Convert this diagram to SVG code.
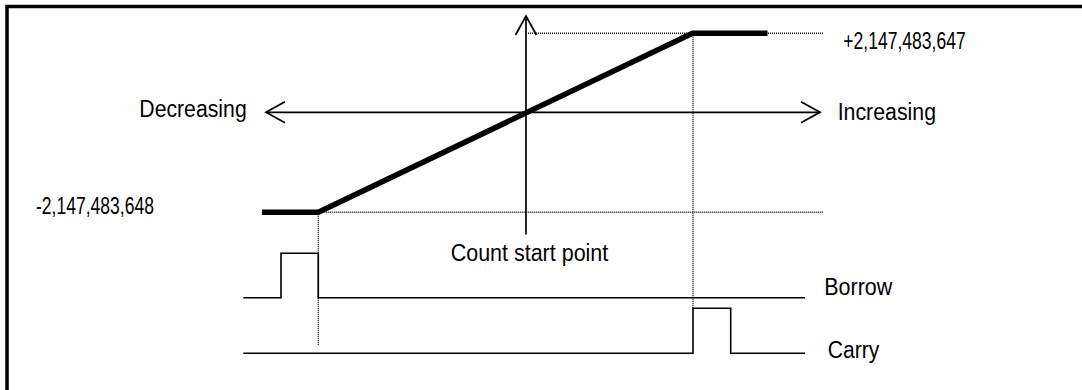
<svg xmlns="http://www.w3.org/2000/svg" width="1082" height="390" viewBox="0 0 1082 390">
  <style>
    .frame { fill: none; stroke: #000; stroke-width: 3.5; }
    .axis { fill: none; stroke: #000; stroke-width: 1.7; }
    .count { fill: none; stroke: #000; stroke-width: 5.5; stroke-linejoin: round; }
    .dot { fill: none; stroke: #111; stroke-width: 1.4; stroke-dasharray: 1 1; }
    .sig { fill: none; stroke: #000; stroke-width: 1.6; }
    .lbl { font-family: "Liberation Sans", Arial, sans-serif; font-size: 23px; fill: #000; }
    .num { font-family: "Liberation Sans Narrow", "Liberation Sans", Arial, sans-serif; font-size: 24px; fill: #000; }
  </style>
  <defs>
    <marker id="open" viewBox="-22 -13 26 26" markerWidth="26" markerHeight="26" refX="0" refY="0" orient="auto-start-reverse" markerUnits="userSpaceOnUse">
      <path d="M-19,-10.5 L0,0 L-19,10.5" fill="none" stroke="#000" stroke-width="1.8"/>
    </marker>
  </defs>
  <rect width="1082" height="390" fill="#fff"/>
  <rect id="frame" class="frame" x="7" y="6.5" width="1100" height="400"/>

  <g id="connectors">
    <line id="h-axis" class="axis" x1="266" y1="112.3" x2="820" y2="112.3" marker-start="url(#open)" marker-end="url(#open)"/>
    <line id="v-axis" class="axis" x1="526" y1="234.5" x2="526" y2="16" marker-end="url(#open)"/>
    <line class="dot" x1="526" y1="33.3" x2="823" y2="33.3"/>
    <line class="dot" x1="318.3" y1="212.3" x2="823" y2="212.3"/>
    <line class="dot" x1="318.3" y1="212.3" x2="318.3" y2="345"/>
    <line class="dot" x1="693" y1="33.3" x2="693" y2="308"/>
  </g>

  <g id="count-line">
    <polyline class="count" points="262,212.3 318.3,212.3 692.5,33.3 767.5,33.3"/>
  </g>

  <g id="borrow">
    <polyline class="sig" points="243.3,297.8 281,297.8 281,253.3 318.3,253.3 318.3,297.8 805,297.8"/>
    <text class="lbl" x="824.3" y="295" textLength="68" lengthAdjust="spacingAndGlyphs">Borrow</text>
  </g>

  <g id="carry">
    <polyline class="sig" points="243.3,353.3 693,353.3 693,308.3 730.7,308.3 730.7,353.3 805,353.3"/>
    <text class="lbl" x="827.7" y="358.3" textLength="51.6" lengthAdjust="spacingAndGlyphs">Carry</text>
  </g>

  <g id="decreasing">
    <text class="lbl" x="139.3" y="116.7" textLength="107.4" lengthAdjust="spacingAndGlyphs">Decreasing</text>
  </g>
  <g id="increasing">
    <text class="lbl" x="837.7" y="120" textLength="98.3" lengthAdjust="spacingAndGlyphs">Increasing</text>
  </g>
  <g id="max-value">
    <text class="num" x="843.3" y="49.3" textLength="122.4" lengthAdjust="spacingAndGlyphs">+2,147,483,647</text>
  </g>
  <g id="min-value">
    <text class="num" x="36" y="214" textLength="118" lengthAdjust="spacingAndGlyphs">-2,147,483,648</text>
  </g>
  <g id="count-start">
    <text class="lbl" x="450.7" y="261" textLength="157.6" lengthAdjust="spacingAndGlyphs">Count start point</text>
  </g>
</svg>
